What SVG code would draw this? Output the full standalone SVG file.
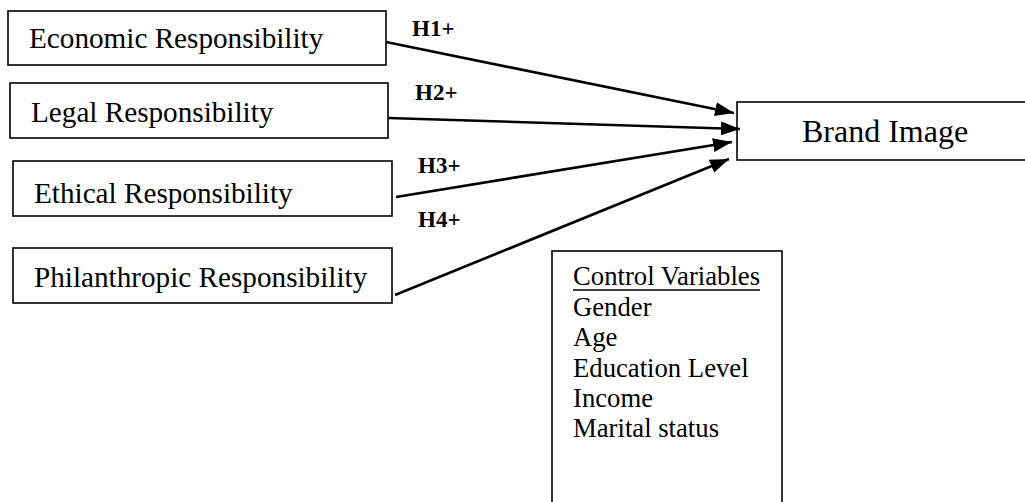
<svg xmlns="http://www.w3.org/2000/svg" width="1025" height="502" viewBox="0 0 1025 502">
<defs>
<style>
.box{fill:#fff;stroke:#000;stroke-width:1.6}
.t{font-family:"Liberation Serif","Times New Roman",serif;fill:#000}
.lbl{font-size:29.2px}
.h{font-family:"Liberation Serif","Times New Roman",serif;font-size:23px;font-weight:bold;fill:#000}
.cv{font-size:26.7px}
.edge{stroke:#000;stroke-width:2.6;fill:none;marker-end:url(#ah)}
</style>
<marker id="ah" markerUnits="userSpaceOnUse" markerWidth="20" markerHeight="16" viewBox="0 0 20 16" refX="19" refY="8" orient="auto">
<path d="M0,1 L19,8 L0,15 Z" fill="#000"/>
</marker>
</defs>
<rect width="1025" height="502" fill="#fff"/>
<g id="economic"><rect class="box" x="8" y="11" width="378" height="54"/><text class="t lbl" x="29" y="48">Economic Responsibility</text></g>
<g id="legal"><rect class="box" x="10" y="83" width="378" height="55"/><text class="t lbl" x="31" y="122">Legal Responsibility</text></g>
<g id="ethical"><rect class="box" x="13" y="161" width="379" height="55"/><text class="t lbl" x="34" y="203">Ethical Responsibility</text></g>
<g id="philanthropic"><rect class="box" x="13" y="248" width="379" height="55"/><text class="t lbl" x="34" y="287">Philanthropic Responsibility</text></g>
<g id="brand"><rect class="box" x="737" y="102" width="290" height="58"/><text class="t" style="font-size:32px" x="802" y="142">Brand Image</text></g>
<g id="control"><rect class="box" x="552" y="251" width="230" height="260"/>
<text class="t cv" x="573" y="285">Control Variables</text>
<line x1="573" y1="290" x2="760" y2="290" stroke="#000" stroke-width="1.6"/>
<text class="t cv" x="573" y="316">Gender</text>
<text class="t cv" x="573" y="346">Age</text>
<text class="t cv" x="573" y="377">Education Level</text>
<text class="t cv" x="573" y="407">Income</text>
<text class="t cv" x="573" y="437">Marital status</text>
</g>
<g id="connectors">
<line class="edge" x1="386" y1="42" x2="734" y2="113"/>
<line class="edge" x1="388" y1="118" x2="740" y2="129"/>
<line class="edge" x1="396" y1="197" x2="732" y2="142"/>
<line class="edge" x1="395" y1="295" x2="729" y2="159"/>
<text class="h" x="412" y="36">H1+</text>
<text class="h" x="415" y="100">H2+</text>
<text class="h" x="418" y="173">H3+</text>
<text class="h" x="418" y="227">H4+</text>
</g>
</svg>
